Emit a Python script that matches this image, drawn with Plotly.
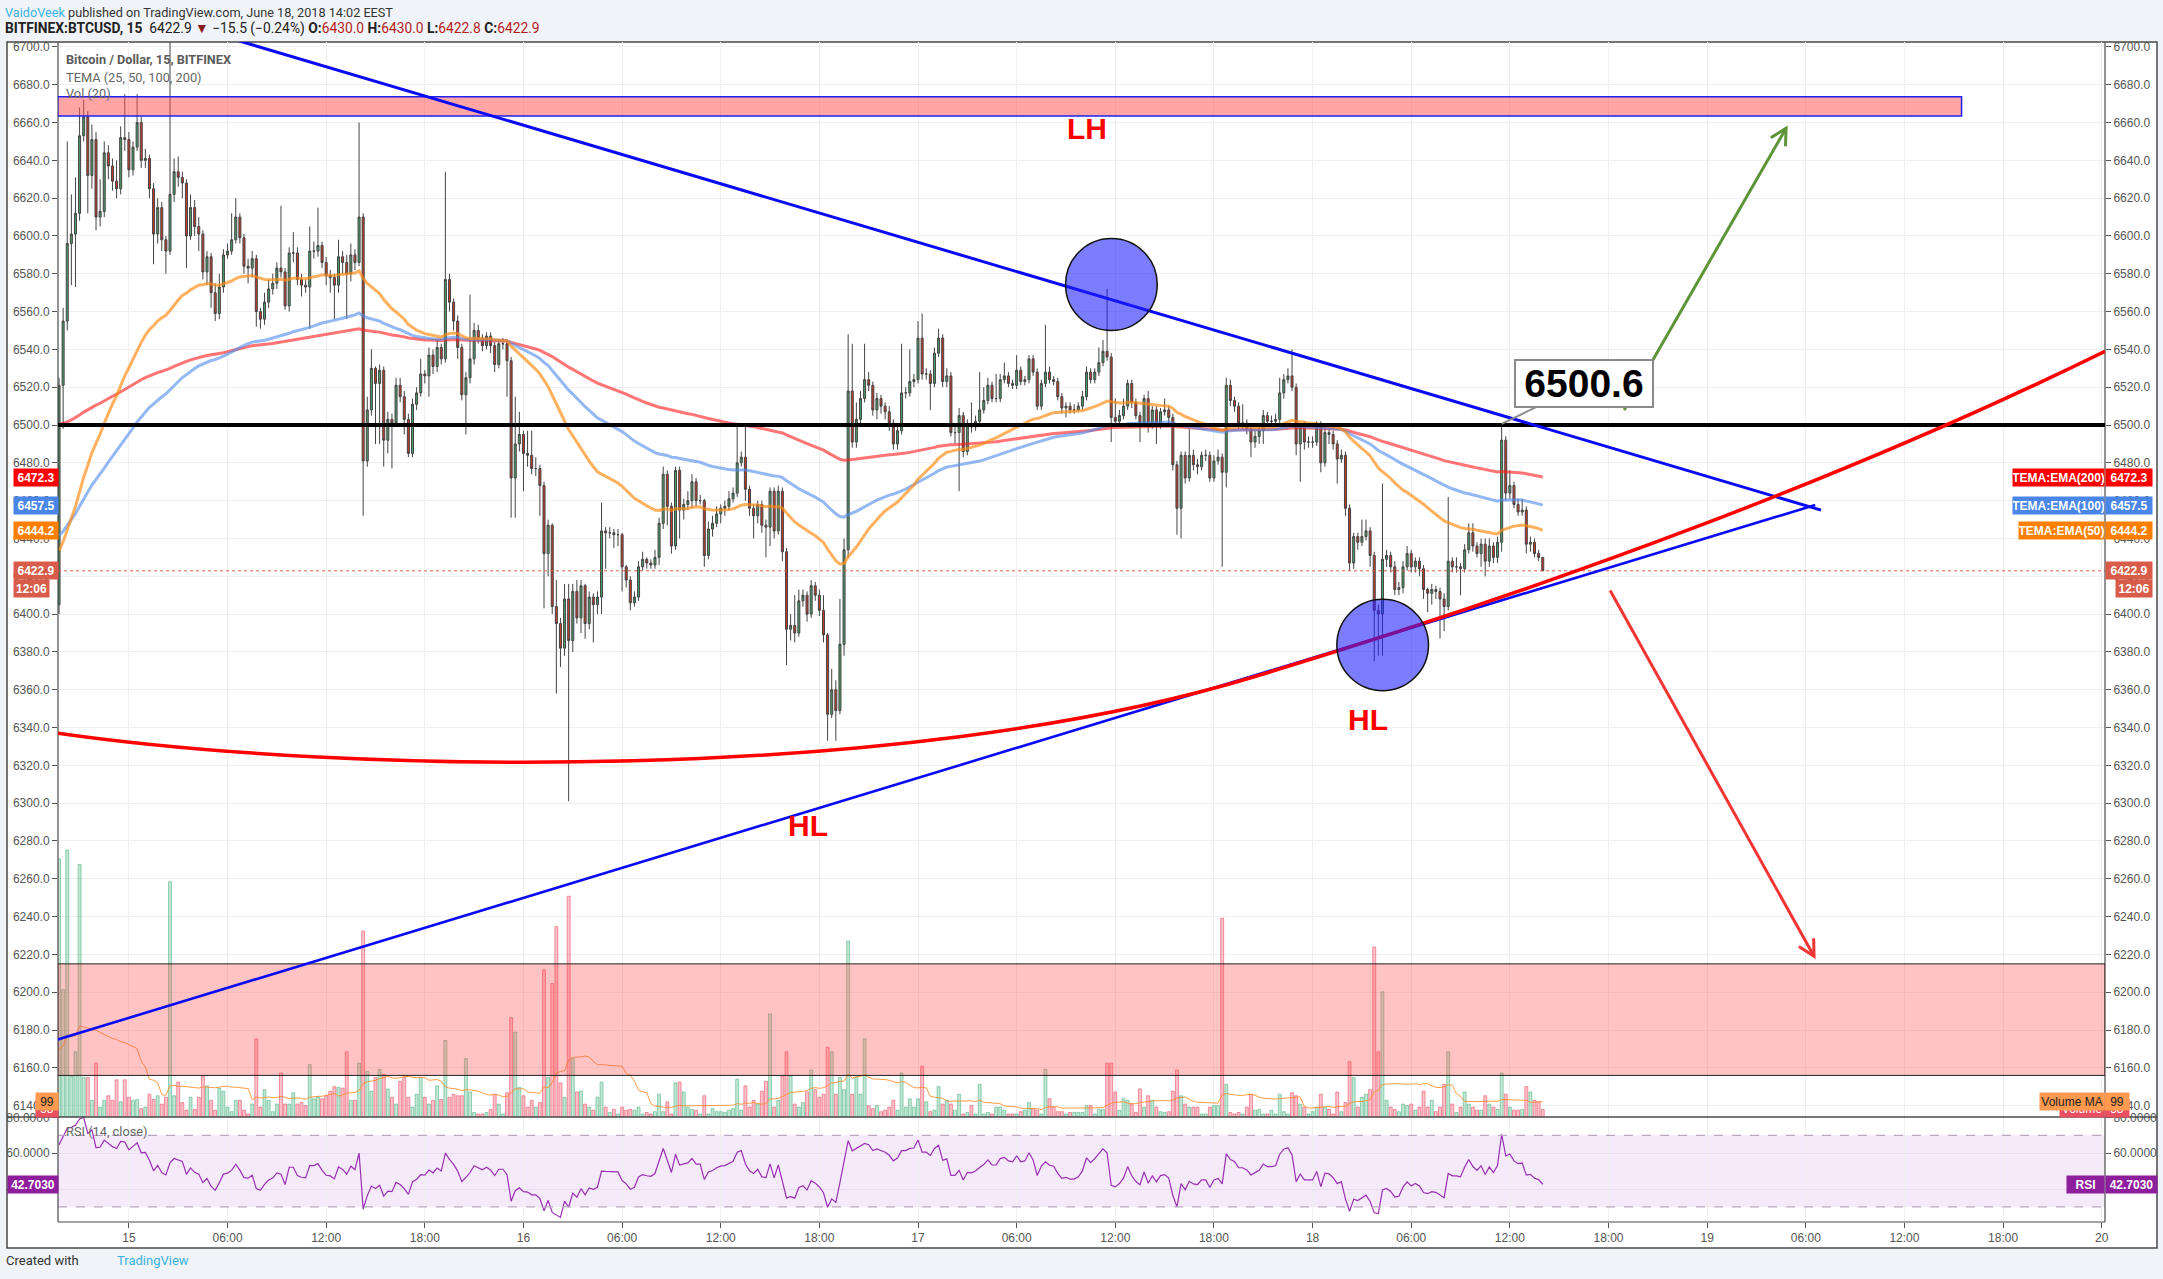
import math
import plotly.graph_objects as go

# BITFINEX:BTCUSD 15 min candles, index 0 = Jun 14 19:45, index 361 = Jun 18 14:00
first_open = 6405
close = [6521, 6555, 6596, 6601, 6612, 6653, 6663, 6632, 6651, 6610, 6613, 6644, 6637, 6629, 6625, 6652, 6651, 6635, 6647, 6660,
         6640, 6641, 6625, 6601, 6615, 6598, 6592, 6622, 6634, 6631, 6628, 6600, 6615, 6605, 6601, 6581, 6589, 6570, 6559, 6573,
         6590, 6592, 6598, 6610, 6599, 6584, 6583, 6588, 6560, 6556, 6565, 6572, 6575, 6583, 6581, 6563, 6591, 6591, 6577, 6574,
         6573, 6592, 6592, 6595, 6586, 6579, 6578, 6574, 6589, 6586, 6580, 6590, 6586, 6610, 6481, 6508, 6530, 6522, 6529, 6492,
         6503, 6501, 6521, 6515, 6503, 6485, 6511, 6517, 6527, 6526, 6537, 6531, 6541, 6535, 6577, 6565, 6555, 6541, 6516, 6525,
         6535, 6550, 6546, 6542, 6547, 6542, 6532, 6543, 6543, 6534, 6472, 6490, 6495, 6485, 6484, 6477, 6477, 6468, 6432, 6447,
         6404, 6395, 6382, 6408, 6386, 6412, 6398, 6415, 6395, 6409, 6405, 6409, 6444, 6443, 6443, 6442, 6442, 6425, 6418, 6406,
         6409, 6425, 6429, 6427, 6426, 6430, 6448, 6474, 6457, 6436, 6476, 6455, 6458, 6460, 6470, 6460, 6460, 6431, 6445, 6448,
         6453, 6456, 6457, 6461, 6464, 6480, 6483, 6466, 6456, 6452, 6458, 6447, 6446, 6465, 6444, 6465, 6433, 6392, 6394, 6390,
         6407, 6410, 6400, 6415, 6410, 6402, 6389, 6347, 6360, 6349, 6384, 6434, 6518, 6491, 6503, 6514, 6524, 6521, 6508, 6514,
         6510, 6507, 6501, 6490, 6497, 6517, 6517, 6523, 6524, 6546, 6527, 6527, 6522, 6538, 6546, 6523, 6526, 6496, 6496, 6505,
         6486, 6500, 6499, 6502, 6508, 6513, 6521, 6514, 6514, 6524, 6526, 6522, 6521, 6529, 6523, 6524, 6535, 6528, 6510, 6522,
         6528, 6524, 6523, 6515, 6509, 6510, 6508, 6508, 6510, 6515, 6528, 6524, 6528, 6533, 6539, 6536, 6504, 6502, 6505, 6510,
         6522, 6512, 6505, 6501, 6514, 6500, 6508, 6500, 6507, 6508, 6504, 6479, 6456, 6484, 6472, 6484, 6479, 6478, 6484, 6484,
         6472, 6481, 6483, 6475, 6521, 6513, 6510, 6501, 6501, 6498, 6491, 6494, 6497, 6505, 6502, 6502, 6503, 6517, 6524, 6526,
         6520, 6490, 6499, 6491, 6491, 6491, 6500, 6480, 6496, 6495, 6490, 6482, 6484, 6456, 6427, 6441, 6438, 6441, 6444, 6431,
         6402, 6400, 6429, 6431, 6425, 6413, 6414, 6425, 6432, 6425, 6428, 6424, 6413, 6411, 6413, 6412, 6408, 6404, 6428, 6425,
         6425, 6424, 6434, 6443, 6436, 6432, 6437, 6428, 6436, 6430, 6438, 6492, 6464, 6468, 6458, 6454, 6455, 6437, 6438, 6432,
         6430, 6422.9]
high = [6525, 6562, 6650, 6622, 6631, 6668, 6672, 6666, 6659, 6655, 6630, 6650, 6648, 6641, 6640, 6658, 6675, 6655, 6650, 6675,
        6663, 6646, 6643, 6628, 6620, 6618, 6600, 6710, 6641, 6642, 6634, 6630, 6622, 6619, 6610, 6603, 6592, 6591, 6575, 6580,
        6593, 6596, 6612, 6620, 6612, 6601, 6588, 6592, 6590, 6562, 6570, 6577, 6580, 6586, 6616, 6583, 6594, 6602, 6594, 6580,
        6577, 6605, 6597, 6615, 6597, 6589, 6582, 6580, 6598, 6592, 6590, 6596, 6593, 6660, 6612, 6515, 6540, 6531, 6532, 6531,
        6507, 6506, 6525, 6525, 6518, 6506, 6514, 6520, 6535, 6529, 6541, 6540, 6545, 6543, 6634, 6580, 6567, 6558, 6543, 6528,
        6569, 6554, 6553, 6548, 6549, 6549, 6544, 6545, 6546, 6545, 6536, 6515, 6507, 6497, 6497, 6497, 6483, 6479, 6470, 6450,
        6448, 6418, 6398, 6416, 6416, 6416, 6418, 6418, 6416, 6412, 6411, 6412, 6459, 6446, 6446, 6445, 6445, 6443, 6426, 6420,
        6412, 6428, 6433, 6430, 6429, 6434, 6451, 6478, 6476, 6459, 6478, 6478, 6461, 6465, 6474, 6472, 6463, 6461, 6449, 6452,
        6457, 6458, 6460, 6465, 6467, 6500, 6486, 6500, 6468, 6458, 6460, 6460, 6450, 6467, 6467, 6468, 6467, 6435, 6400, 6410,
        6413, 6413, 6412, 6418, 6417, 6413, 6410, 6390, 6371, 6365, 6408, 6440, 6548, 6543, 6512, 6518, 6543, 6528, 6523, 6517,
        6516, 6512, 6510, 6503, 6500, 6543, 6520, 6540, 6527, 6555, 6559, 6530, 6529, 6541, 6551, 6548, 6530, 6528, 6500, 6509,
        6507, 6503, 6512, 6505, 6528, 6520, 6525, 6523, 6527, 6527, 6533, 6528, 6524, 6537, 6531, 6526, 6537, 6537, 6530, 6524,
        6553, 6531, 6526, 6525, 6517, 6512, 6512, 6511, 6512, 6518, 6531, 6530, 6530, 6541, 6545, 6572, 6538, 6514, 6508, 6514,
        6524, 6524, 6514, 6507, 6516, 6518, 6510, 6510, 6509, 6514, 6510, 6506, 6481, 6486, 6486, 6498, 6487, 6482, 6486, 6487,
        6486, 6484, 6487, 6485, 6525, 6524, 6515, 6512, 6511, 6503, 6500, 6497, 6500, 6508, 6507, 6505, 6506, 6525, 6527, 6530,
        6540, 6522, 6501, 6502, 6494, 6494, 6502, 6502, 6499, 6498, 6497, 6492, 6487, 6486, 6458, 6443, 6443, 6450, 6450, 6446,
        6433, 6405, 6469, 6434, 6433, 6428, 6417, 6428, 6436, 6434, 6430, 6430, 6426, 6414, 6416, 6415, 6414, 6411, 6462, 6430,
        6430, 6427, 6437, 6448, 6448, 6438, 6440, 6440, 6440, 6438, 6441, 6500, 6494, 6476, 6470, 6461, 6461, 6457, 6441, 6440,
        6434, 6430.0]
low = [6400, 6498, 6550, 6574, 6573, 6608, 6650, 6612, 6625, 6603, 6605, 6610, 6630, 6624, 6620, 6622, 6645, 6631, 6632, 6645,
       6636, 6636, 6620, 6585, 6596, 6592, 6580, 6590, 6618, 6626, 6620, 6583, 6598, 6600, 6592, 6577, 6574, 6562, 6555, 6556,
       6570, 6588, 6590, 6596, 6596, 6580, 6575, 6578, 6552, 6551, 6553, 6562, 6569, 6572, 6578, 6561, 6560, 6586, 6574, 6568,
       6570, 6551, 6588, 6589, 6583, 6574, 6570, 6556, 6570, 6580, 6556, 6576, 6582, 6584, 6452, 6478, 6505, 6490, 6490, 6478,
       6485, 6477, 6499, 6512, 6495, 6483, 6483, 6508, 6515, 6522, 6515, 6527, 6528, 6532, 6533, 6560, 6550, 6535, 6513, 6495,
       6522, 6532, 6543, 6539, 6540, 6538, 6528, 6530, 6540, 6515, 6451, 6451, 6486, 6465, 6478, 6474, 6473, 6452, 6403, 6420,
       6400, 6358, 6372, 6378, 6301, 6380, 6395, 6390, 6387, 6392, 6385, 6400, 6400, 6424, 6440, 6435, 6436, 6412, 6414, 6402,
       6404, 6407, 6423, 6424, 6424, 6424, 6426, 6445, 6447, 6432, 6434, 6440, 6450, 6455, 6456, 6457, 6458, 6425, 6429, 6441,
       6446, 6448, 6452, 6455, 6459, 6462, 6478, 6460, 6452, 6440, 6448, 6443, 6430, 6436, 6440, 6442, 6428, 6373, 6386, 6385,
       6388, 6404, 6396, 6398, 6407, 6399, 6385, 6333, 6345, 6333, 6347, 6378, 6430, 6488, 6488, 6500, 6512, 6518, 6505, 6503,
       6506, 6503, 6497, 6487, 6487, 6495, 6514, 6515, 6520, 6522, 6524, 6524, 6508, 6520, 6536, 6520, 6520, 6494, 6490, 6465,
       6483, 6484, 6496, 6497, 6500, 6506, 6511, 6512, 6512, 6512, 6522, 6520, 6519, 6519, 6521, 6521, 6522, 6526, 6508, 6508,
       6520, 6522, 6521, 6513, 6506, 6504, 6506, 6506, 6507, 6508, 6513, 6522, 6522, 6526, 6531, 6534, 6491, 6499, 6500, 6503,
       6508, 6509, 6503, 6491, 6499, 6496, 6498, 6490, 6498, 6505, 6501, 6476, 6442, 6440, 6469, 6470, 6476, 6474, 6476, 6481,
       6470, 6470, 6479, 6425, 6467, 6510, 6507, 6498, 6498, 6495, 6483, 6488, 6490, 6490, 6499, 6499, 6500, 6500, 6514, 6522,
       6518, 6484, 6470, 6487, 6488, 6488, 6489, 6475, 6478, 6490, 6487, 6469, 6480, 6452, 6423, 6424, 6434, 6436, 6439, 6425,
       6375, 6378, 6378, 6425, 6422, 6410, 6410, 6411, 6423, 6422, 6422, 6420, 6408, 6401, 6405, 6408, 6387, 6391, 6402, 6422,
       6422, 6410, 6422, 6432, 6433, 6430, 6425, 6420, 6425, 6427, 6427, 6433, 6460, 6461, 6456, 6452, 6452, 6432, 6433, 6430,
       6428, 6422.8]
volume = [1700, 840, 1760, 270, 430, 1665, 260, 260, 110, 355, 65, 110, 140, 110, 245, 100, 245, 130, 110, 115,
          55, 65, 150, 115, 140, 85, 130, 1550, 140, 230, 95, 45, 130, 50, 130, 270, 205, 110, 45, 190,
          170, 65, 35, 110, 110, 45, 20, 85, 515, 65, 180, 110, 35, 85, 290, 85, 85, 160, 85, 95,
          75, 345, 120, 130, 120, 140, 170, 200, 195, 190, 430, 110, 110, 355, 1225, 300, 170, 260, 315, 280,
          185, 130, 85, 235, 260, 130, 65, 150, 260, 130, 85, 110, 205, 115, 505, 130, 150, 140, 140, 385,
          165, 30, 20, 20, 30, 50, 150, 85, 20, 160, 655, 560, 195, 140, 65, 110, 65, 95, 970, 260,
          880, 1255, 225, 130, 1455, 385, 165, 170, 85, 65, 45, 130, 230, 65, 30, 50, 20, 65, 45, 50,
          45, 65, 20, 30, 20, 35, 150, 35, 100, 20, 225, 230, 165, 65, 50, 45, 20, 140, 20, 55,
          35, 35, 30, 45, 55, 250, 45, 205, 65, 110, 85, 170, 235, 680, 65, 110, 270, 430, 270, 85,
          65, 95, 165, 310, 180, 130, 150, 460, 430, 150, 260, 180, 1160, 150, 260, 150, 515, 75, 55, 75,
          35, 45, 65, 110, 45, 290, 65, 120, 65, 120, 335, 100, 35, 45, 200, 85, 110, 85, 45, 150,
          20, 30, 75, 20, 215, 20, 30, 20, 65, 65, 45, 20, 20, 20, 35, 45, 95, 55, 45, 20,
          315, 120, 65, 35, 35, 20, 30, 30, 30, 30, 75, 75, 20, 50, 50, 355, 355, 165, 45, 120,
          110, 85, 30, 185, 65, 140, 110, 65, 35, 30, 35, 170, 310, 140, 85, 65, 65, 65, 20, 20,
          65, 75, 75, 1310, 215, 30, 20, 30, 20, 65, 150, 45, 50, 20, 20, 45, 20, 150, 35, 20,
          160, 140, 85, 65, 20, 35, 65, 150, 65, 50, 20, 165, 35, 95, 365, 260, 65, 130, 150, 180,
          1120, 430, 825, 110, 65, 50, 35, 85, 75, 85, 45, 65, 170, 65, 110, 35, 65, 215, 430, 85,
          30, 65, 165, 85, 65, 45, 45, 140, 85, 65, 50, 290, 150, 65, 45, 45, 50, 200, 165, 110,
          100, 50]

# indicator starting states (values just before the first visible candle)
ema_seed = {50: 6430, 100: 6440, 200: 6500}
rsi_seed_gain, rsi_seed_loss = 11.0, 6.0
vol_ma_seed = 380

# x axis: candle index of each 6 h boundary
tick_idx = [17, 41, 65, 89, 113, 137, 161, 185, 209, 233, 257, 281, 305, 329, 353, 377, 401, 425, 449, 473, 497]
tick_txt = ["15", "06:00", "12:00", "18:00", "16", "06:00", "12:00", "18:00", "17", "06:00", "12:00", "18:00",
            "18", "06:00", "12:00", "18:00", "19", "06:00", "12:00", "18:00", "20"]

# drawings (candle index, price)
resist_box = [(-0.3, 6663.5), (462.9, 6673.7)]
demand_box = [(-0.3, 6156), (497.8, 6215)]
level_line = 6500
upper_trend = [(43.3, 6703.5), (428.7, 6455)]
lower_trend = [(-0.3, 6175), (427.3, 6457.7)]
bowl_curve = [(-0.3, 6337), (70.8, 6315), (204.6, 6310), (291, 6367), (364, 6415), (437, 6474), (497.8, 6539)]
circle_lh = [(244.9, 6550), (267.2, 6598.7)]
circle_hl = [(310.9, 6359.5), (333.2, 6407.8)]
arrow_up = [(380.8, 6508), (420.2, 6657)]
arrow_down = [(377.4, 6412.5), (427.0, 6219)]
pivot_labels = [("LH", 250.1, 6657), ("HL", 182.2, 6288), ("HL", 318.4, 6344)]
callout = (351, 6500.6, "6500.6")
last_price = 6422.9
ema_labels = [("TEMA:EMA(200)", 6472.3, "#FF0000"), ("TEMA:EMA(100)", 6457.5, "#4A86E8"),
              ("TEMA:EMA(50)", 6444.2, "#FF8000")]
rsi_last = 42.7030

X_RANGE = [-0.25, 497.8]
Y_RANGE = [6134, 6702.6]
RSI_RANGE = [21.6, 80.2]
W, H = 2163, 1279
L_M, R_M, T_M, B_M = 58, 58, 42, 57
PW, PH = W - L_M - R_M, H - T_M - B_M
SPLIT = (1222 - 1117) / PH
PX_IDX = PW / (X_RANGE[1] - X_RANGE[0])
PX_PRICE = PH * (1 - SPLIT) / (Y_RANGE[1] - Y_RANGE[0])


def px(x):
    return (x - L_M) / PW


def py(y):
    return (T_M + PH - y) / PH


opens = [first_open] + close[:-1]
idx = list(range(len(close)))
up = [c >= o for o, c in zip(opens, close)]


def ema(vals, n, seed):
    a, e, out = 2 / (n + 1), seed, []
    for v in vals:
        e += a * (v - e)
        out.append(e)
    return out


def rsi(vals, n, g, l):
    out = [100 - 100 / (1 + g / l)]
    prev = vals[0]
    for v in vals[1:]:
        ch = v - prev
        prev = v
        g = (g * (n - 1) + max(ch, 0)) / n
        l = (l * (n - 1) + max(-ch, 0)) / n
        out.append(100 - 100 / (1 + g / l))
    return out


vol_ma = []
for i in idx:
    win = volume[max(0, i - 19):i + 1]
    vol_ma.append((sum(win) + vol_ma_seed * (20 - len(win))) / 20)

TXT = "Roboto, Liberation Sans, Arial, sans-serif"
AXF = "Liberation Sans, Arial, sans-serif"

fig = go.Figure()

fig.add_trace(go.Bar(
    x=idx, y=volume, yaxis="y3", width=0.72,
    marker=dict(color=["rgba(38,166,104,0.28)" if u else "rgba(239,83,106,0.35)" for u in up],
                line=dict(color=["rgba(38,166,104,0.45)" if u else "rgba(239,83,106,0.6)" for u in up], width=1)),
    hoverinfo="skip"))
fig.add_trace(go.Scatter(x=idx, y=vol_ma, yaxis="y3", mode="lines",
                         line=dict(color="rgba(255,140,40,0.85)", width=1), hoverinfo="skip"))

for n, col in [(200, "rgba(255,30,30,0.62)"), (100, "rgba(80,140,235,0.62)"), (50, "rgba(255,140,20,0.68)")]:
    fig.add_trace(go.Scatter(x=idx, y=ema(close, n, ema_seed[n]), mode="lines",
                             line=dict(color=col, width=3), hoverinfo="skip"))

fig.add_trace(go.Candlestick(
    x=idx, open=opens, high=high, low=low, close=close, whiskerwidth=0,
    increasing=dict(fillcolor="#4A9A69", line=dict(color="#444", width=1)),
    decreasing=dict(fillcolor="#C23B2C", line=dict(color="#444", width=1)),
    hoverinfo="skip"))

fig.add_trace(go.Scatter(x=idx, y=rsi(close, 14, rsi_seed_gain, rsi_seed_loss), yaxis="y2", mode="lines",
                         line=dict(color="#9A2FB3", width=1.2), hoverinfo="skip"))
# carriers for the mirrored left scales
fig.add_trace(go.Scatter(x=[idx[0]], y=[close[0]], yaxis="y4", mode="markers", opacity=0, hoverinfo="skip"))
fig.add_trace(go.Scatter(x=[idx[0]], y=[50], yaxis="y5", mode="markers", opacity=0, hoverinfo="skip"))

shapes = []
# frame
shapes.append(dict(type="rect", xref="paper", yref="paper", x0=px(7), x1=px(2157), y0=py(1248), y1=py(42),
                   fillcolor="white", line=dict(color="#4a4a4a", width=1.5), layer="below"))
# RSI band
shapes.append(dict(type="rect", xref="x", yref="y2", x0=X_RANGE[0], x1=X_RANGE[1], y0=30, y1=70,
                   fillcolor="rgba(155,60,210,0.11)", line=dict(width=0), layer="below"))
for lv in (30, 70):
    shapes.append(dict(type="line", xref="x", yref="y2", x0=X_RANGE[0], x1=X_RANGE[1], y0=lv, y1=lv,
                       line=dict(color="#B9A8C2", width=1.2, dash="dash")))
# panel separator and axis lines
shapes.append(dict(type="line", xref="paper", yref="paper", x0=px(7), x1=px(2157), y0=SPLIT, y1=SPLIT,
                   line=dict(color="#4a4a4a", width=1.5)))
for xx in (0, 1):
    shapes.append(dict(type="line", xref="paper", yref="paper", x0=xx, x1=xx, y0=0, y1=1,
                       line=dict(color="#4a4a4a", width=1.2)))
shapes.append(dict(type="line", xref="paper", yref="paper", x0=0, x1=1, y0=0, y1=0,
                   line=dict(color="#4a4a4a", width=1.2)))
# last price line
shapes.append(dict(type="line", xref="paper", yref="y", x0=0, x1=1, y0=last_price, y1=last_price,
                   line=dict(color="#D95C4A", width=1, dash="dot")))
# zones
(a, b) = demand_box
shapes.append(dict(type="rect", x0=a[0], x1=b[0], y0=a[1], y1=b[1], fillcolor="rgba(255,82,82,0.35)",
                   line=dict(color="#222", width=1), layer="above"))
(a, b) = resist_box
shapes.append(dict(type="rect", x0=a[0], x1=b[0], y0=a[1], y1=b[1], fillcolor="rgba(255,82,82,0.52)",
                   line=dict(color="#2020F0", width=1.5), layer="above"))
# 6500 level
shapes.append(dict(type="line", x0=X_RANGE[0], x1=X_RANGE[1], y0=level_line, y1=level_line,
                   line=dict(color="black", width=4), layer="above"))
# trend lines
for pts, wdt in [(upper_trend, 3), (lower_trend, 2.6)]:
    shapes.append(dict(type="line", x0=pts[0][0], y0=pts[0][1], x1=pts[1][0], y1=pts[1][1],
                       line=dict(color="#0A0AF5", width=wdt), layer="above"))
# curve
c = bowl_curve
path = "M {},{} C {},{} {},{} {},{} C {},{} {},{} {},{}".format(*[v for p in c for v in p])
shapes.append(dict(type="path", path=path, line=dict(color="#FF0000", width=3.5), layer="above"))
# circles
for cc in (circle_lh, circle_hl):
    shapes.append(dict(type="circle", x0=cc[0][0], y0=cc[0][1], x1=cc[1][0], y1=cc[1][1],
                       fillcolor="rgba(30,30,255,0.58)", line=dict(color="#111", width=1.5), layer="above"))


# arrows with open heads
def arrow(pts, color, wdt, ln=18, ang=28):
    (x0, y0), (x1, y1) = pts
    out = [dict(type="line", x0=x0, y0=y0, x1=x1, y1=y1, line=dict(color=color, width=wdt), layer="above")]
    dx, dy = (x1 - x0) * PX_IDX, (y1 - y0) * PX_PRICE
    n = math.hypot(dx, dy)
    ux, uy = -dx / n, -dy / n
    wings = []
    for s in (1, -1):
        t = math.radians(ang * s)
        wx = ux * math.cos(t) - uy * math.sin(t)
        wy = ux * math.sin(t) + uy * math.cos(t)
        wings.append((x1 + wx * ln / PX_IDX, y1 + wy * ln / PX_PRICE))
    out.append(dict(type="path", path="M {},{} L {},{} L {},{}".format(wings[0][0], wings[0][1], x1, y1,
                                                                      wings[1][0], wings[1][1]),
                    line=dict(color=color, width=wdt), layer="above"))
    return out


shapes += arrow(arrow_up, "#5E9438", 3)
shapes += arrow(arrow_down, "#F23434", 3)

ann = []
for txt_, xi, yp in pivot_labels:
    ann.append(dict(x=xi, y=yp, text="<b>%s</b>" % txt_, showarrow=False,
                    font=dict(family=AXF, size=30, color="#FF0000")))
ann.append(dict(x=callout[0], y=callout[1], text="<b>%s</b>" % callout[2], showarrow=True, arrowhead=0,
                arrowwidth=2, arrowcolor="#8a8a8a", ax=82, ay=-40, bgcolor="white", bordercolor="#8a8a8a",
                borderwidth=2, borderpad=1, width=134, font=dict(family=AXF, size=39, color="black")))


def box(text, yref, yv, bg, x_left, x_right, fc="white", bold=True, hgt=17):
    return dict(xref="paper", yref=yref, x=px(x_left), y=yv, xanchor="left", yanchor="middle",
                text=("<b>%s</b>" % text) if bold else text, showarrow=False, bgcolor=bg,
                width=x_right - x_left, height=hgt, borderpad=0, align="center",
                font=dict(family=AXF, size=12, color=fc))


for name, val, col in ema_labels:
    ann.append(box(name, "y", val, col, 2012 if "50)" not in name else 2018, 2103))
    ann.append(box("%.1f" % val, "y", val, col, 2105, 2151))
    ann.append(box("%.1f" % val, "y", val, col, 13, 57))
ann.append(box("%.1f" % last_price, "y", last_price, "#D95C4A", 2105, 2151))
ann.append(box("%.1f" % last_price, "y", last_price, "#D95C4A", 13, 57))
ann.append(box("12:06", "y", last_price - 9.5, "#D95C4A", 2115, 2151))
ann.append(box("12:06", "y", last_price - 9.5, "#D95C4A", 13, 48))
ann.append(box("Volume", "y3", 58, "#E8505F", 2059, 2103, bold=False))
ann.append(box("58", "y3", 58, "#E8505F", 2104, 2128, bold=False))
ann.append(box("58", "y3", 58, "#E8505F", 35, 57, bold=False))
ann.append(box("Volume MA", "y3", 99, "#FF9A4F", 2039, 2103, fc="#222", bold=False))
ann.append(box("99", "y3", 99, "#FF9A4F", 2104, 2128, fc="#222", bold=False))
ann.append(box("99", "y3", 99, "#FF9A4F", 35, 57, fc="#222", bold=False))
ann.append(box("RSI", "y2", rsi_last, "#8E1F9C", 2066, 2103))
ann.append(box("%.4f" % rsi_last, "y2", rsi_last, "#8E1F9C", 2105, 2156))
ann.append(box("%.4f" % rsi_last, "y2", rsi_last, "#8E1F9C", 7, 57))


# legends and header
def txt(x, y, text, size=12, color="#555", family=TXT):
    return dict(xref="paper", yref="paper", x=px(x), y=py(y), xanchor="left", yanchor="middle", text=text,
                showarrow=False, font=dict(family=family, size=size, color=color))


ann.append(txt(64, 59, "<b>Bitcoin / Dollar, 15, BITFINEX</b>", size=12.7, color="#5a5a5a"))
ann.append(txt(64, 77, "TEMA (25, 50, 100, 200)", size=12.8, color="#666"))
ann.append(txt(64, 94, "Vol (20)", size=12.8, color="#666"))
ann.append(txt(64, 1131, "RSI (14, close)", size=12.8, color="#666"))
ann.append(txt(3, 12, '<span style="color:#3BB3E4">VaidoVeek</span> published on TradingView.com, '
                      'June 18, 2018 14:02 EEST', size=12.7, color="#333"))
red = '<span style="color:#B71C1C">%s</span>'
ann.append(txt(3, 29, "<b>BITFINEX:BTCUSD, 15</b>  6422.9 " + '<span style="color:#8B1A1A">▼</span>'
               + " −15.5 (−0.24%) <b>O:</b>" + red % "6430.0" + " <b>H:</b>" + red % "6430.0"
               + " <b>L:</b>" + red % "6422.8" + " <b>C:</b>" + red % "6422.9", size=13.8, color="#222"))
ann.append(txt(4, 1260, "Created with", size=13, color="#333"))
ann.append(txt(115, 1260, "TradingView", size=13, color="#3BB3E4"))

tickfont = dict(family=AXF, size=12, color="#555")
yticks = dict(tickmode="linear", tick0=6140, dtick=20, tickformat=".1f", tickfont=tickfont,
              ticks="outside", ticklen=5, tickcolor="#555", range=Y_RANGE, zeroline=False)
rticks = dict(tickvals=[40, 60, 80], tickformat=".4f", tickfont=tickfont, ticks="outside", ticklen=5,
              tickcolor="#555", range=RSI_RANGE, zeroline=False)

fig.update_layout(
    template="none", width=W, height=H, showlegend=False, bargap=0.28,
    margin=dict(l=L_M, r=R_M, t=T_M, b=B_M, autoexpand=False),
    paper_bgcolor="#F0F3F7", plot_bgcolor="white",
    xaxis=dict(range=X_RANGE, tickvals=tick_idx, ticktext=tick_txt, tickfont=tickfont, anchor="y2",
               showgrid=True, gridcolor="#EFEFEF", ticks="outside", ticklen=5, tickcolor="#555",
               rangeslider=dict(visible=False), zeroline=False, showline=False),
    yaxis=dict(domain=[SPLIT, 1], side="right", anchor="x", showgrid=True, gridcolor="#F0F0F0", **yticks),
    yaxis4=dict(overlaying="y", side="left", anchor="x", showgrid=False, **yticks),
    yaxis3=dict(overlaying="y", range=[0, 7085], visible=False),
    yaxis2=dict(domain=[0, SPLIT], side="right", anchor="x", showgrid=True, gridcolor="#E9DDF0", **rticks),
    yaxis5=dict(overlaying="y2", side="left", anchor="x", showgrid=False, **rticks),
    shapes=shapes, annotations=ann,
)

fig.write_html("out.html", config={"displayModeBar": False},
               post_script="document.body.style.margin='0';document.body.style.overflow='hidden';")
